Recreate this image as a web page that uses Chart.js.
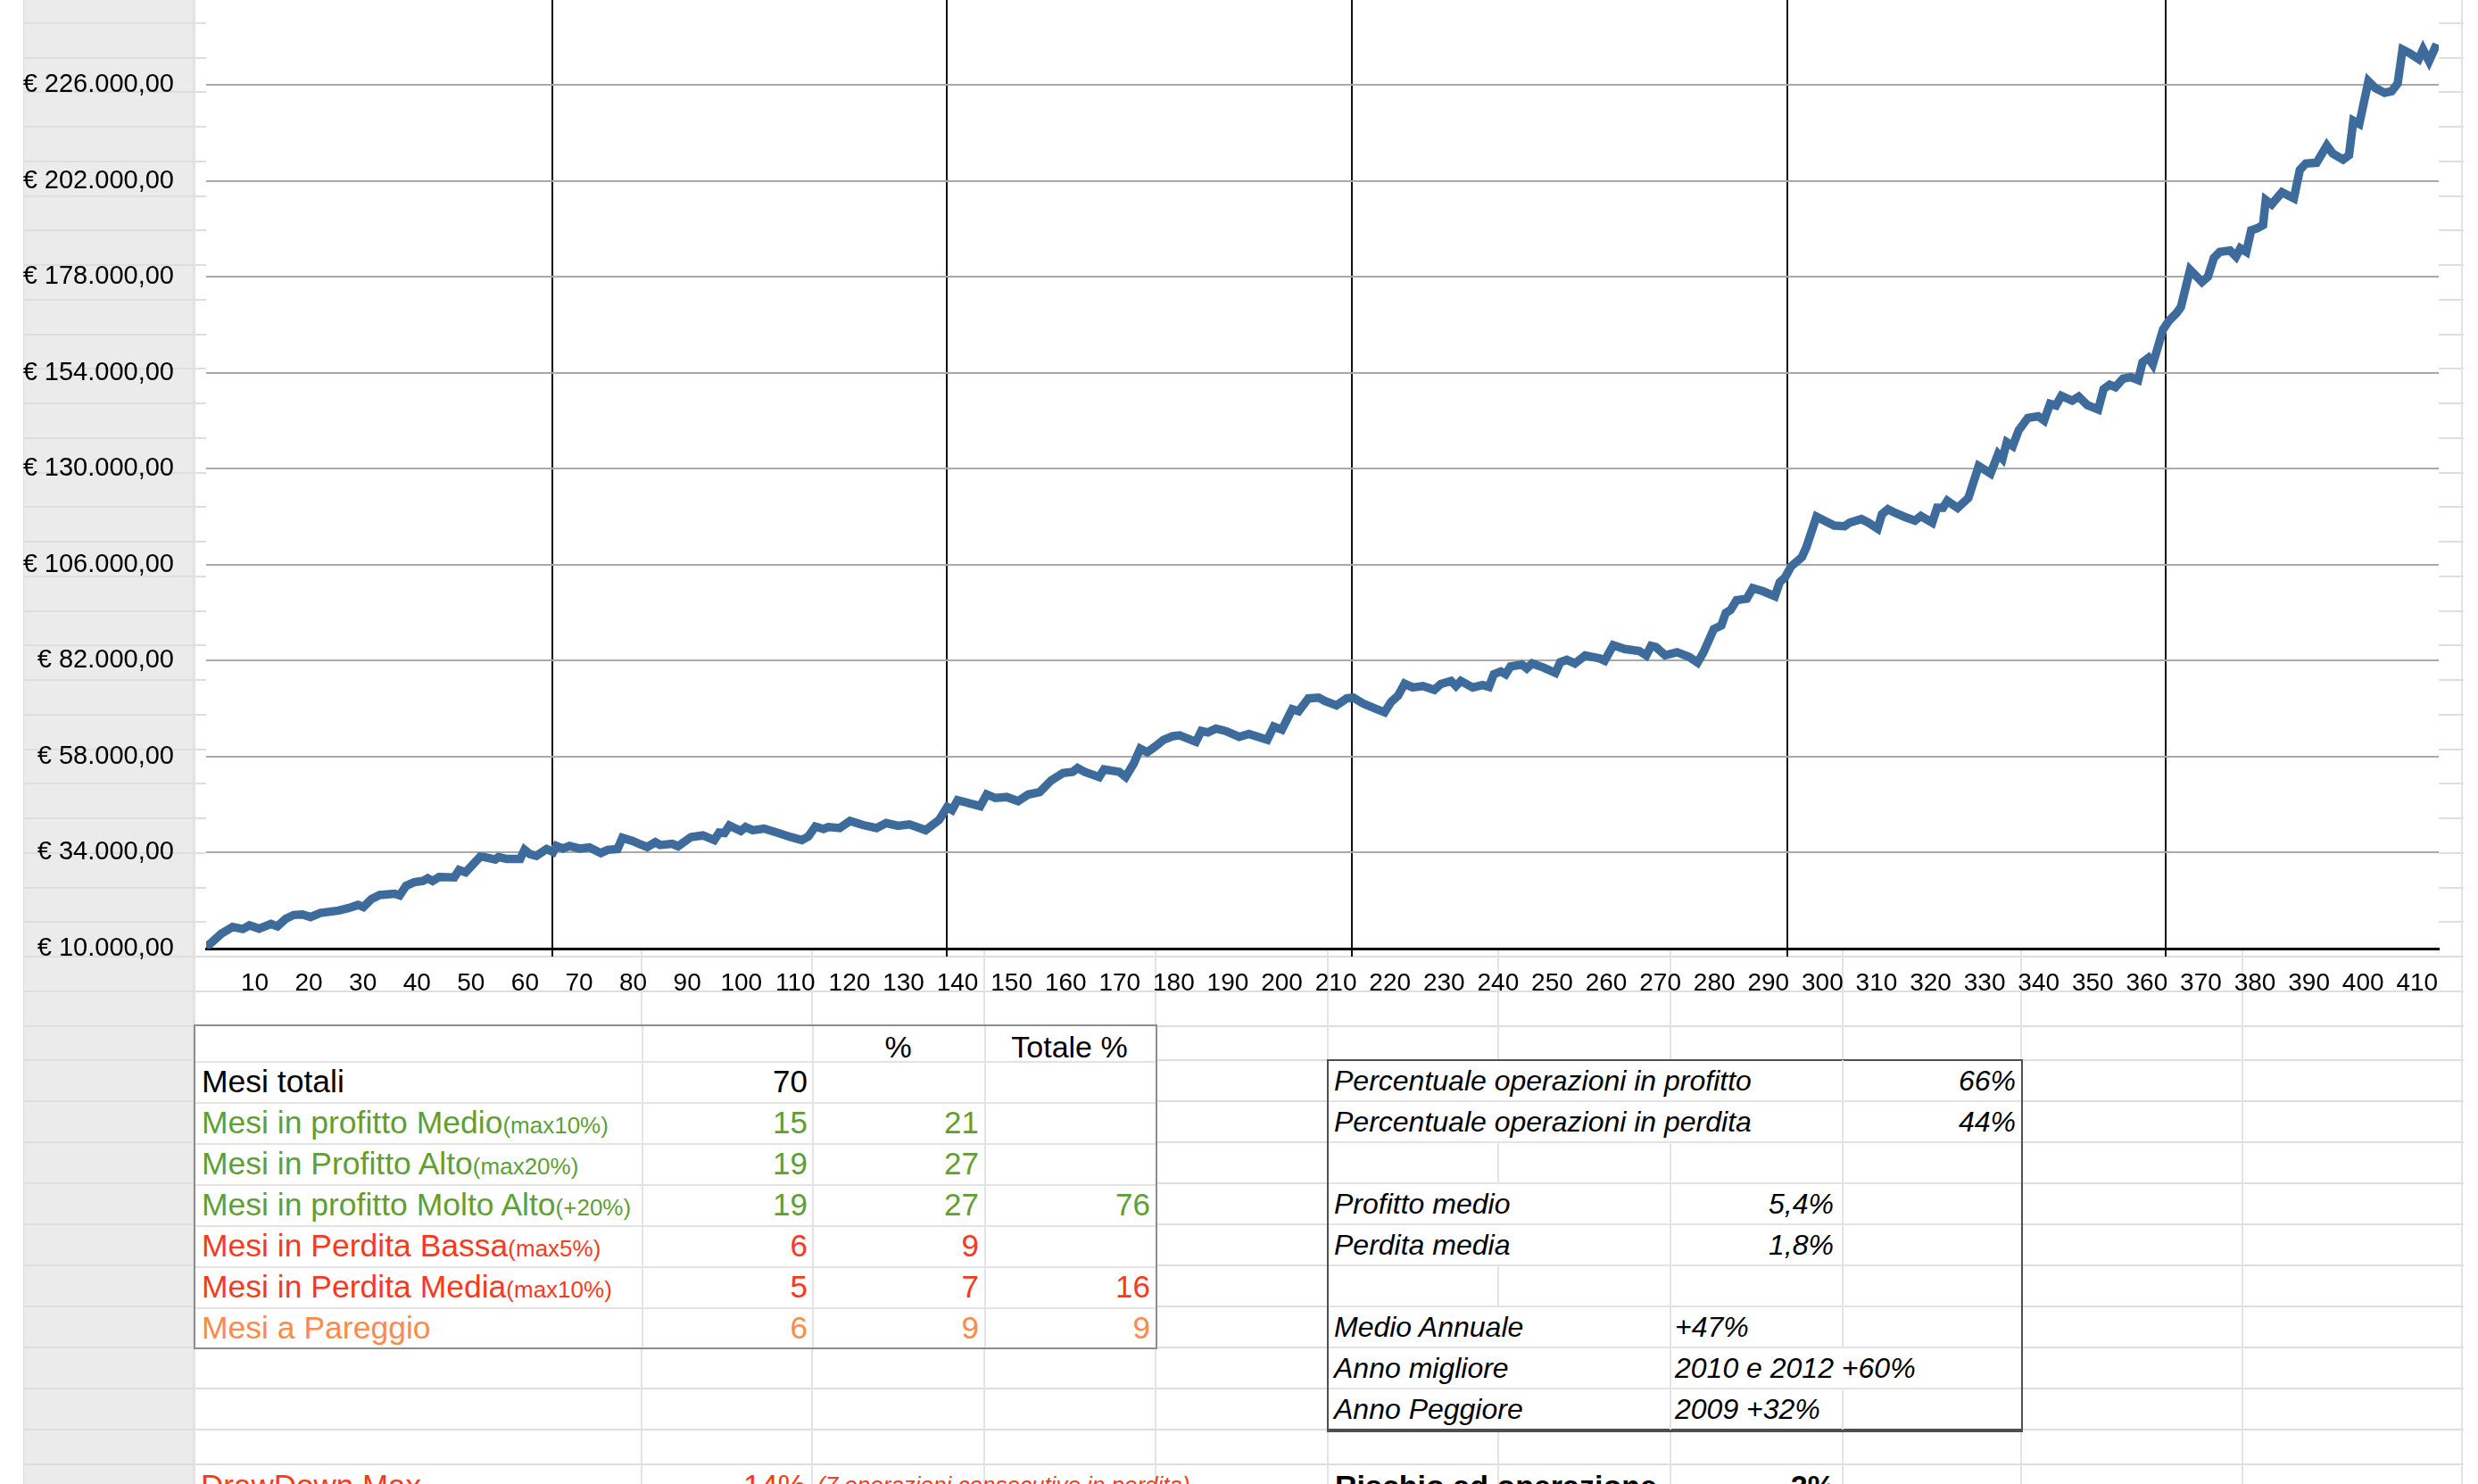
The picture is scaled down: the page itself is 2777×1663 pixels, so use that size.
<!DOCTYPE html>
<html>
<head>
<meta charset="utf-8">
<script src="https://cdn.jsdelivr.net/npm/chart.js@4.4.1/dist/chart.umd.min.js"></script>
<style>
  body { margin: 0; width: 2777px; height: 1663px; overflow: hidden; background: #fff; position: relative;
         font-family: "Liberation Sans", Arial, Helvetica, sans-serif; }
  #head { position: absolute; left: 26px; top: 0; width: 192px; height: 1663px; background: #ebebeb;
          border-left: 1px solid #dedede; border-right: 2px solid #e0e0e0; box-sizing: border-box; }
  .hl { position: absolute; height: 2px; background: #e3e3e3; }
  .vl { position: absolute; width: 2px; background: #e3e3e3; }
  .tbl { position: absolute; background: #fff; box-sizing: border-box; }
  .cell { position: absolute; white-space: nowrap; height: 46px; line-height: 48px; }
  .small { font-size: 26px; }
  #chartBox { position: absolute; left: 0; top: -66px; width: 2777px; height: 1186px; }
</style>
</head>
<body>
<div id="head"></div>
<div id="sheet"></div>
<div id="tables"></div>
<div id="chartBox"><canvas id="equity-chart" width="2777" height="1186"></canvas></div>

<script>
// ---- chart data ----
const xPos = [
  1, 3.8, 5.9, 7.8, 9, 10.8, 13, 14.2, 15.7, 17.2, 18.8, 20.3, 22.1, 25.5, 27.3, 29.1, 30.1, 31.6, 33.1, 35.9,
  36.8, 38, 39.5, 41.1, 42, 42.9, 44.1, 46.9, 47.8, 49, 51.7, 52.4, 54.5, 55.1, 56.6, 59.1, 59.9, 60.9, 62.1, 64,
  65.2, 65.8, 67, 68.2, 70.1, 71.9, 74, 75.3, 77.1, 78, 79.9, 81.1, 82.6, 84.1, 85, 87.2, 88.3, 90.7, 92.9, 95,
  95.9, 96.9, 97.8, 99.9, 100.8, 102.1, 104.2, 106.6, 109.1, 111.2, 112.4, 113.7, 115.2, 116.1, 118.2, 120.1, 122.5, 125, 126.8, 129,
  131.1, 134.1, 136.6, 138.1, 139, 140, 144.2, 145.4, 147, 149.1, 151.2, 153.1, 155.2, 157.3, 159.5, 161.3, 162.2, 163.5, 166.2, 167.1,
  169.9, 171.1, 172.6, 173.8, 175.1, 176.6, 178.1, 179.8, 181.1, 184.1, 185.1, 186.3, 187.8, 189.6, 192.1, 193.9, 197.3, 198.5, 200, 201.9,
  203.1, 204.9, 206.8, 208, 210.1, 212, 213.2, 215, 217.2, 219, 220.2, 221.5, 222.7, 224.2, 226.1, 228.2, 229.4, 231.3, 232.2, 233.1,
  235.3, 237.1, 238.3, 239.2, 240.5, 241.4, 242.3, 244.4, 245.3, 246.3, 248.4, 250.6, 251.5, 252.7, 254.2, 256.1, 258.8, 259.7, 261.3, 263.4,
  266.1, 267.4, 268.3, 269.2, 270.9, 273.1, 275.3, 276.9, 278, 279.9, 281.3, 282.1, 283, 284.1, 286, 287.1, 289, 291.2, 292.1, 293.1,
  294.2, 296.2, 297, 298.9, 300.6, 302.2, 304.1, 305, 307.2, 308.5, 310.2, 311, 312.1, 313.2, 315.1, 317.1, 318.2, 320.3, 321.2, 322.3,
  323.1, 325, 327, 328.9, 331.1, 332.5, 333.3, 334.1, 335.2, 336.3, 338, 339.9, 341, 342.1, 343.2, 344.2, 346.2, 347.4, 349, 351,
  352, 353.1, 354.2, 355.6, 357, 358.4, 359.2, 360.3, 361.1, 363, 364.1, 365.5, 366.3, 368, 370.2, 371.3, 372.4, 373.5, 375.4, 376.5,
  377.3, 378.4, 379.3, 380.4, 381.5, 382, 383.1, 385, 387.2, 388.3, 389.4, 391.4, 393.3, 394.4, 396.3, 397.4, 398.2, 399.3, 401, 402.3,
  404, 405.3, 406.4, 407.3, 408.6, 410.3, 411.1, 412.2, 413.3, 414
];
const equity = [
  10300, 13700, 15400, 14900, 15800, 15000, 16150, 15550, 17400, 18400, 18550, 17900, 18900, 19500, 20100, 20900, 20400, 22400, 23400, 23700,
  23300, 25700, 26600, 26900, 27600, 26900, 27900, 27800, 29650, 29100, 33000, 32900, 32300, 32900, 32400, 32400, 34700, 33600, 33200, 34900,
  34150, 35650, 35000, 35650, 35000, 35300, 33900, 34700, 34900, 37700, 36900, 36200, 35400, 36600, 35900, 36200, 35600, 37900, 38300, 37150,
  39000, 38900, 40750, 39400, 40400, 39600, 40000, 39000, 37900, 37150, 38050, 40500, 39900, 40400, 40150, 41900, 40900, 40150, 41400, 40700,
  41050, 39600, 42200, 45400, 44650, 47100, 45600, 48550, 47650, 47900, 46900, 48550, 49150, 52000, 53900, 54200, 55150, 54200, 52900, 54800,
  54200, 52900, 56300, 60000, 59100, 60550, 62200, 63100, 63300, 61700, 64400, 64050, 65000, 64400, 62950, 63650, 62200, 65500, 64750, 69850,
  69350, 72550, 72750, 71900, 70800, 72550, 72750, 71300, 70050, 69100, 71650, 73250, 76250, 75300, 75650, 74700, 76150, 76900, 75650, 76900,
  75300, 75900, 75450, 78600, 79300, 78600, 80550, 81000, 80050, 81300, 80250, 78950, 81600, 82200, 81300, 83300, 82550, 82000, 85850, 84900,
  84400, 83300, 85700, 85400, 83350, 84100, 82950, 81500, 84100, 89900, 90800, 93900, 94650, 97100, 97500, 100100, 99350, 98100, 101600, 102850,
  105550, 107900, 110300, 118000, 116850, 115750, 115600, 116500, 117400, 116500, 115000, 118600, 119850, 119100, 118000, 117000, 118150, 116500, 120200, 120200,
  121950, 120200, 122700, 130650, 128800, 133650, 132500, 136600, 135650, 139600, 142700, 143100, 142050, 146200, 145800, 148200, 147000, 148000, 145900, 144800,
  149900, 151000, 150400, 152500, 152900, 152150, 156600, 157700, 156100, 164800, 167000, 168900, 170400, 179700, 176700, 178000, 182700, 184200, 184550, 183050,
  185100, 184200, 189600, 190100, 190900, 197200, 196100, 199100, 197600, 204700, 206300, 206500, 210800, 208800, 207300, 208400, 217000, 216200, 226900, 225150,
  224000, 224400, 226300, 234800, 233900, 232400, 234800, 231900, 235200, 234800
];
const yTicks = [10000, 34000, 58000, 82000, 106000, 130000, 154000, 178000, 202000, 226000, 250000];
const xLabels = [10, 20, 30, 40, 50, 60, 70, 80, 90, 100, 110, 120, 130, 140, 150, 160, 170, 180, 190, 200,
                 210, 220, 230, 240, 250, 260, 270, 280, 290, 300, 310, 320, 330, 340, 350, 360, 370, 380, 390, 400, 410];
const yearMarks = [65, 138, 213, 293.5, 363.5];

// ---- table contents ----
const GREEN = '#5f9f33', RED = '#f83a1c', ORANGE = '#fc8a48';
const t1Rows = [
  ['Mesi totali', '', '#000', '70', '', ''],
  ['Mesi in profitto Medio', '(max10%)', GREEN, '15', '21', ''],
  ['Mesi in Profitto Alto', '(max20%)', GREEN, '19', '27', ''],
  ['Mesi in profitto Molto Alto', '(+20%)', GREEN, '19', '27', '76'],
  ['Mesi in Perdita Bassa', '(max5%)', RED, '6', '9', ''],
  ['Mesi in Perdita Media', '(max10%)', RED, '5', '7', '16'],
  ['Mesi a Pareggio', '', ORANGE, '6', '9', '9']
];
const t2Rows = [
  ['Percentuale operazioni in profitto', '', '66%'],
  ['Percentuale operazioni in perdita', '', '44%'],
  ['', '', ''],
  ['Profitto medio', '5,4%', ''],
  ['Perdita media', '1,8%', ''],
  ['', '', ''],
  ['Medio Annuale', '+47%', ''],
  ['Anno migliore', '2010 e 2012 +60%', ''],
  ['Anno Peggiore', '2009 +32%', '']
];

// ---- spreadsheet grid behind everything ----
const sheet = document.getElementById('sheet');
const rowLines = [];
for (let k = 0; k <= 31; k++) rowLines.push(-13 + 38.75 * k);
[1234, 1280, 1326, 1372, 1418, 1464, 1510, 1556, 1602, 1641, 1687].forEach(y => rowLines.push(y));
const colLines = [218, 719, 910, 1103, 1295, 1488, 1679, 1872, 2065, 2265, 2513, 2759];

function line(parent, cls, css) {
  const d = document.createElement('div');
  d.className = cls;
  Object.assign(d.style, css);
  parent.appendChild(d);
  return d;
}
rowLines.forEach(y => line(sheet, 'hl', { left: '26px', width: '2735px', top: (y - 1) + 'px',
  background: '#dedede' }));
colLines.forEach(x => line(sheet, 'vl', { left: (x - 1) + 'px', top: '0px', height: '1663px' }));

// ---- tables ----
const tables = document.getElementById('tables');
function text(parent, str, css, cls) {
  const d = document.createElement('div');
  d.className = 'cell' + (cls ? ' ' + cls : '');
  d.textContent = str;
  Object.assign(d.style, css);
  parent.appendChild(d);
  return d;
}

// table 1
const t1 = line(tables, 'tbl', { left: '217px', top: '1148px', width: '1080px', height: '364px',
  border: '2px solid #8d8d8d' });
[1188, 1234, 1280, 1326, 1372, 1418, 1464].forEach(y =>
  line(t1, 'hl', { left: '0px', width: '1076px', top: (y - 1149) + 'px' }));
[719, 910, 1103].forEach(x => line(t1, 'vl', { left: (x - 219) + 'px', top: '0px', height: '360px' }));
text(t1, '%', { left: '692px', width: '191px', top: '-1px', textAlign: 'center', fontSize: '34px' });
text(t1, 'Totale %', { left: '884px', width: '191px', top: '-1px', textAlign: 'center', fontSize: '34px' });
t1Rows.forEach((r, i) => {
  const top = 38 + 46 * i;
  const lab = text(t1, r[0], { left: '7px', top: top + 'px', color: r[2], fontSize: '35.5px' });
  if (r[1]) {
    const s = document.createElement('span');
    s.className = 'small';
    s.textContent = r[1];
    lab.appendChild(s);
  }
  text(t1, r[3], { left: '500px', width: '186px', top: top + 'px', textAlign: 'right', color: r[2], fontSize: '35px' });
  text(t1, r[4], { left: '692px', width: '186px', top: top + 'px', textAlign: 'right', color: r[2], fontSize: '35px' });
  text(t1, r[5], { left: '884px', width: '186px', top: top + 'px', textAlign: 'right', color: r[2], fontSize: '35px' });
});

// table 2
const t2 = line(tables, 'tbl', { left: '1487px', top: '1187px', width: '780px', height: '418px',
  border: '2px solid #4f4f4f', borderBottomWidth: '4px' });
[1234, 1280, 1326, 1372, 1418, 1464, 1510, 1556].forEach(y =>
  line(t2, 'hl', { left: '0px', width: '776px', top: (y - 1190) + 'px' }));
// inner column pieces: only where no text runs across them
const t2Cols = [
  [2065, 1188, 1511], [2065, 1557, 1602],
  [1872, 1280, 1602],
  [1679, 1280, 1326], [1679, 1418, 1464]
];
t2Cols.forEach(c => line(t2, 'vl', { left: (c[0] - 1490) + 'px', top: (c[1] - 1189) + 'px', height: (c[2] - c[1]) + 'px' }));
t2Rows.forEach((r, i) => {
  const top = 46 * i - 2;
  const st = { top: top + 'px', fontStyle: 'italic', fontSize: '32px', color: '#000' };
  text(t2, r[0], Object.assign({ left: '6px' }, st));
  if (r[1] && i < 6) text(t2, r[1], Object.assign({ left: '384px', width: '182px', textAlign: 'right' }, st));
  if (r[1] && i >= 6) text(t2, r[1], Object.assign({ left: '388px' }, st));
  if (r[2]) text(t2, r[2], Object.assign({ left: '580px', width: '190px', textAlign: 'right' }, st));
});

// last (cut off) row
text(tables, 'DrawDown Max', { left: '225px', top: '1641px', color: RED, fontSize: '35px' });
text(tables, '14%', { left: '719px', width: '184px', top: '1641px', textAlign: 'right', color: RED, fontSize: '35px' });
text(tables, '(7 operazioni consecutive in perdita)', { left: '916px', top: '1640px', color: RED, fontSize: '26px', fontStyle: 'italic' });
text(tables, 'Rischio ad operazione', { left: '1496px', top: '1641px', color: '#000', fontSize: '34px', fontWeight: 'bold' });
text(tables, '2%', { left: '1872px', width: '184px', top: '1641px', textAlign: 'right', color: '#000', fontSize: '34px', fontWeight: 'bold' });

// ---- chart ----
Chart.defaults.font.family = '"Liberation Sans", Arial, Helvetica, sans-serif';

function euro(v) {
  const s = String(Math.round(v)).replace(/\B(?=(\d{3})+(?!\d))/g, '.');
  return '€ ' + s + ',00';
}

const plotBackground = {
  id: 'plotBackground',
  beforeDraw(chart) {
    const { ctx, chartArea: a } = chart;
    ctx.save();
    ctx.fillStyle = '#ffffff';
    ctx.fillRect(a.left, a.top, a.right - a.left, a.bottom - a.top);
    ctx.restore();
  }
};

const ctx = document.getElementById('equity-chart').getContext('2d');
new Chart(ctx, {
  type: 'line',
  data: {
    datasets: [{
      data: xPos.map((x, i) => ({ x: x, y: equity[i] })),
      borderColor: '#3d6b9c',
      borderWidth: 9.5,
      pointRadius: 0,
      tension: 0,
      fill: false
    }]
  },
  options: {
    responsive: false,
    animation: false,
    layout: { padding: { top: 26, right: 44, left: 0, bottom: 0 } },
    plugins: { legend: { display: false }, tooltip: { enabled: false } },
    scales: {
      x: {
        type: 'linear',
        min: 1,
        max: 414,
        afterBuildTicks: s => {
          s.ticks = [...xLabels, ...yearMarks].sort((a, b) => a - b).map(v => ({ value: v }));
        },
        afterFit: s => { s.height = 57; },
        grid: {
          color: c => (c.tick && yearMarks.includes(c.tick.value)) ? '#111' : 'rgba(0,0,0,0)',
          lineWidth: 2,
          tickLength: 9
        },
        border: { display: true, color: '#000', width: 3 },
        ticks: {
          autoSkip: false,
          maxRotation: 0,
          minRotation: 0,
          padding: 13,
          color: '#000',
          font: { size: 28 },
          callback: v => xLabels.includes(v) ? String(v) : ''
        }
      },
      y: {
        min: 10000,
        max: 250000,
        afterBuildTicks: s => { s.ticks = yTicks.map(v => ({ value: v })); },
        afterFit: s => { s.width = 231; },
        grid: { color: '#a9a9a9', lineWidth: 2, drawTicks: false },
        border: { display: false },
        ticks: {
          padding: 36,
          color: '#000',
          font: { size: 29 },
          callback: v => euro(v)
        }
      }
    }
  },
  plugins: [plotBackground]
});
</script>
</body>
</html>
